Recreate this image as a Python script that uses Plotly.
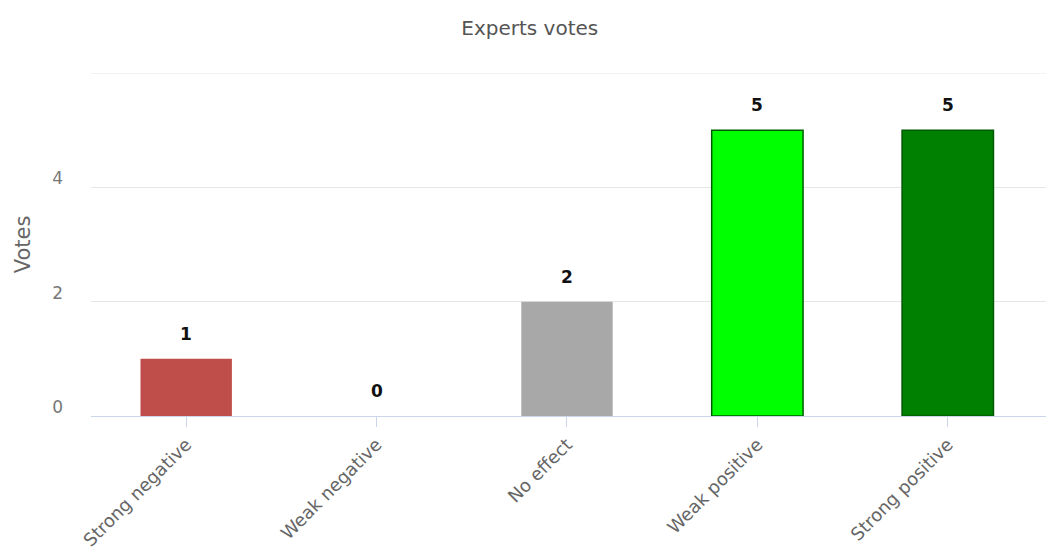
import plotly.graph_objects as go

categories = ["Strong negative", "Weak negative", "No effect", "Weak positive", "Strong positive"]
votes = [1, 0, 2, 5, 5]
bar_colors = ["#BF4D4A", "#E0E0E0", "#A8A8A8", "#00FF00", "#008000"]
bar_lines = ["#BF4D4A", "#E0E0E0", "#A8A8A8", "#005A00", "#005A00"]
bar_line_widths = [0, 0, 0, 1.5, 1.5]
y_tickvals = [0, 2, 4]
y_ticktext = ["0", "2", "4"]
y_max = 6

FONT = "DejaVu Sans"

fig = go.Figure()
fig.add_trace(go.Bar(
    x=categories, y=votes,
    marker=dict(color=bar_colors, line=dict(color=bar_lines, width=bar_line_widths)),
    width=0.48, showlegend=False, hoverinfo="x+y",
))

for c, v in zip(categories, votes):
    fig.add_annotation(x=c, y=v, text=f"<b>{v}</b>", showarrow=False,
                       yanchor="bottom", yshift=13,
                       font=dict(family=FONT, size=17, color="#111111"))

# top gridline at the axis maximum
fig.add_shape(type="line", xref="paper", yref="y", x0=0, x1=1, y0=y_max, y1=y_max,
              line=dict(color="#E6E6E6", width=1), layer="below")

fig.update_layout(
    width=1054, height=552,
    margin=dict(l=83, r=0, t=65, b=144),
    paper_bgcolor="white", plot_bgcolor="white",
    title=dict(text="Experts votes", x=0.495, xanchor="center", y=0.963, yanchor="middle",
               font=dict(family=FONT, size=20, color="#555555")),
    xaxis=dict(
        range=[-0.5, 4.6], tickangle=-45, showgrid=False,
        showline=True, linecolor="#CCD6EB", linewidth=1,
        ticks="outside", ticklen=10, tickcolor="#CCD6EB",
        tickfont=dict(family=FONT, size=18, color="#666666"),
    ),
    yaxis=dict(
        range=[0, y_max], tickvals=y_tickvals, ticktext=y_ticktext,
        showgrid=True, gridcolor="#E6E6E6", gridwidth=1, zeroline=False,
        tickfont=dict(family=FONT, size=17, color="#777777"),
        ticklabelshift=-9, ticklabelstandoff=27,
        title=dict(text="Votes", font=dict(family=FONT, size=21, color="#666666"), standoff=15),
    ),
)

fig.write_html("out.html")
